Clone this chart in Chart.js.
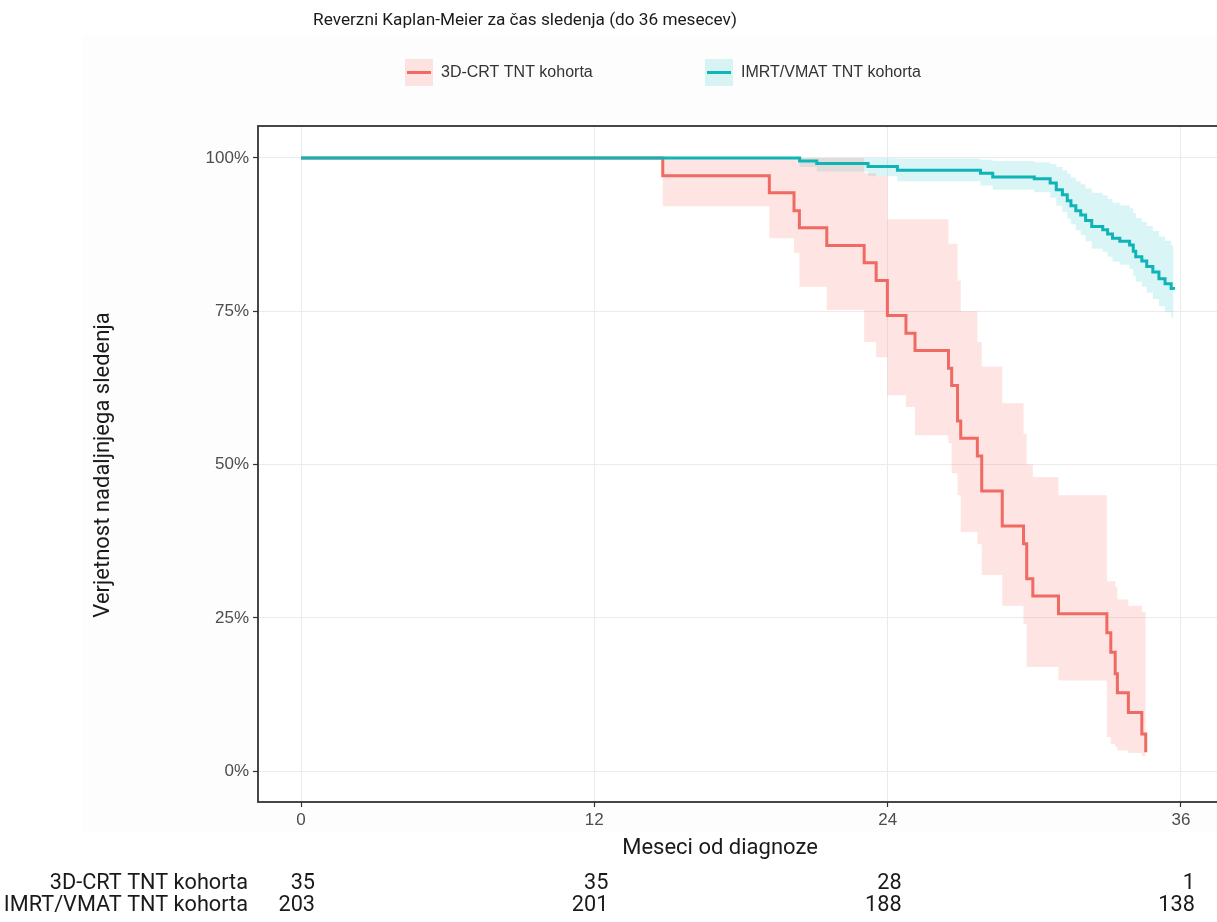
<!DOCTYPE html>
<html>
<head>
<meta charset="utf-8">
<script src="https://cdn.jsdelivr.net/npm/chart.js@4.4.1/dist/chart.umd.min.js"></script>
<style>
  html, body { margin: 0; padding: 0; background: #fff; overflow: hidden; }
  canvas { display: block; }
</style>
</head>
<body>
<canvas id="km" width="1232" height="922"></canvas>
<script>
// Reverse Kaplan-Meier, values
const xTicks = [0, 12, 24, 36];
const yTicks = [0, 0.25, 0.5, 0.75, 1];

const redTimes = [0, 14.8, 19.16, 20.17, 20.39, 21.51, 23.04, 23.53, 23.99, 24.75,
  25.12, 26.49, 26.62, 26.86, 26.99, 27.67, 27.85, 28.69, 29.56, 29.69,
  29.94, 30.99, 32.97, 33.13, 33.31, 33.40, 33.85, 34.40, 34.56];
const redSurv = [1, 0.971, 0.943, 0.914, 0.886, 0.857, 0.829, 0.800, 0.743, 0.714,
  0.686, 0.657, 0.629, 0.571, 0.543, 0.514, 0.457, 0.400, 0.371, 0.314,
  0.286, 0.257, 0.226, 0.194, 0.159, 0.128, 0.096, 0.061, 0.031];
const redLower = [1, 0.921, 0.869, 0.845, 0.79, 0.752, 0.70, 0.675, 0.613, 0.594,
  0.548, 0.535, 0.486, 0.45, 0.39, 0.37, 0.32, 0.27, 0.24, 0.17,
  0.17, 0.148, 0.056, 0.045, 0.04, 0.034, 0.03, 0.025, 0.02];
const redUpper = [1, 1, 1, 1, 1, 1, 0.975, 0.97, 0.90, 0.90,
  0.90, 0.86, 0.86, 0.80, 0.75, 0.70, 0.66, 0.60, 0.55, 0.50,
  0.48, 0.45, 0.31, 0.31, 0.30, 0.28, 0.27, 0.26, 0.25];

const cyanTimes = [0, 20.4, 21.1, 23.2, 24.4, 27.8, 28.3, 30.0, 30.65, 30.9,
  31.15, 31.35, 31.5, 31.7, 31.9, 32.1, 32.35, 32.8, 33.0, 33.2,
  33.5, 33.9, 34.05, 34.15, 34.4, 34.6, 34.85, 35.1, 35.35, 35.6, 35.7];
const cyanSurv = [1, 0.995, 0.991, 0.986, 0.980, 0.975, 0.969, 0.966, 0.959, 0.948,
  0.940, 0.930, 0.922, 0.914, 0.907, 0.898, 0.888, 0.883, 0.876, 0.869,
  0.864, 0.858, 0.848, 0.839, 0.832, 0.823, 0.814, 0.803, 0.795, 0.787, 0.785];
const cyanLower = [1, 0.985, 0.978, 0.970, 0.962, 0.955, 0.948, 0.944, 0.935, 0.922,
  0.912, 0.901, 0.892, 0.882, 0.874, 0.864, 0.852, 0.847, 0.839, 0.831,
  0.826, 0.819, 0.808, 0.798, 0.790, 0.780, 0.770, 0.758, 0.749, 0.740, 0.733];
const cyanUpper = [1, 1, 1, 1, 0.999, 0.997, 0.995, 0.993, 0.990, 0.985,
  0.980, 0.974, 0.968, 0.962, 0.957, 0.950, 0.943, 0.939, 0.933, 0.927,
  0.923, 0.918, 0.910, 0.902, 0.896, 0.889, 0.881, 0.872, 0.865, 0.857, 0.850];

const groupNames = ['3D-CRT TNT kohorta', 'IMRT/VMAT TNT kohorta'];
const riskTimes = [0, 12, 24, 36];
const riskRed = [35, 35, 28, 1];
const riskCyan = [203, 201, 188, 138];

const RED = '#EF6A62';
const CYAN = '#0FB4B8';
const RED_BAND = 'rgba(248, 118, 109, 0.2)';
const CYAN_BAND = 'rgba(0, 191, 196, 0.15)';

function pts(times, vals) {
  return times.map((t, i) => ({ x: t, y: vals[i] }));
}

function band(times, vals, color, fill) {
  return {
    data: pts(times, vals),
    stepped: true,
    borderWidth: 0,
    pointRadius: 0,
    backgroundColor: color,
    fill: fill
  };
}

function curve(times, vals, color) {
  return {
    data: pts(times, vals),
    stepped: true,
    borderColor: color,
    borderWidth: 3,
    pointRadius: 0,
    fill: false
  };
}

const tickFont = { family: '"Liberation Sans", Arial, sans-serif', size: 17 };

// background, panel frame, titles, legend and the risk table
const decor = {
  id: 'decor',
  beforeDraw(chart) {
    const { ctx, chartArea: a } = chart;
    ctx.save();
    ctx.fillStyle = '#ffffff';
    ctx.fillRect(0, 0, chart.width, chart.height);
    ctx.fillStyle = '#fdfdfd';
    ctx.fillRect(83, 35, chart.width - 83, 797);
    ctx.fillStyle = '#ffffff';
    ctx.fillRect(a.left, a.top, a.right - a.left, a.bottom - a.top);
    ctx.restore();
  },
  afterDraw(chart) {
    const { ctx, chartArea: a } = chart;
    const xs = chart.scales.x;
    ctx.save();

    ctx.strokeStyle = '#333333';
    ctx.lineWidth = 1.8;
    ctx.strokeRect(a.left, a.top, a.right - a.left, a.bottom - a.top);

    ctx.fillStyle = '#1a1a1a';
    ctx.textBaseline = 'middle';
    ctx.textAlign = 'center';
    ctx.font = '17.2px Roboto';
    ctx.fillText('Reverzni Kaplan-Meier za čas sledenja (do 36 mesecev)', 525, 21);

    // legend
    const keys = [
      { x: 405, color: RED, fill: RED_BAND, text: groupNames[0] },
      { x: 705, color: CYAN, fill: CYAN_BAND, text: groupNames[1] }
    ];
    keys.forEach(k => {
      ctx.fillStyle = k.fill;
      ctx.fillRect(k.x, 59, 28, 27);
      ctx.strokeStyle = k.color;
      ctx.lineWidth = 3;
      ctx.beginPath();
      ctx.moveTo(k.x + 2, 72.5);
      ctx.lineTo(k.x + 26, 72.5);
      ctx.stroke();
      ctx.fillStyle = '#333333';
      ctx.textAlign = 'left';
      ctx.font = '16px "Liberation Sans", Arial, sans-serif';
      ctx.fillText(k.text, k.x + 36, 72.5);
    });

    // axis titles
    ctx.fillStyle = '#1a1a1a';
    ctx.font = '22px Roboto';
    ctx.textAlign = 'center';
    ctx.fillText('Meseci od diagnoze', 720, 848);
    ctx.save();
    ctx.translate(103, 465);
    ctx.rotate(-Math.PI / 2);
    ctx.fillText('Verjetnost nadaljnjega sledenja', 0, 0);
    ctx.restore();

    // numbers at risk
    ctx.font = '21.7px Roboto';
    const rows = [{ y: 884, vals: riskRed }, { y: 906, vals: riskCyan }];
    rows.forEach((r, i) => {
      ctx.textAlign = 'right';
      ctx.fillText(groupNames[i], 248, r.y);
      r.vals.forEach((v, j) => {
        ctx.fillText(String(v), xs.getPixelForValue(riskTimes[j]) + 14, r.y);
      });
    });

    ctx.restore();
  }
};

const ctx = document.getElementById('km').getContext('2d');
new Chart(ctx, {
  type: 'line',
  data: {
    // Chart.js paints dataset 0 last, so the curves come first
    datasets: [
      curve(cyanTimes, cyanSurv, CYAN),
      curve(redTimes, redSurv, RED),
      band(redTimes, redUpper, RED_BAND, '+1'),
      band(redTimes, redLower, RED_BAND, false),
      band(cyanTimes, cyanUpper, CYAN_BAND, '+1'),
      band(cyanTimes, cyanLower, CYAN_BAND, false)
    ]
  },
  options: {
    responsive: false,
    animation: false,
    devicePixelRatio: 1,
    layout: { padding: { top: 126, right: 10, bottom: 90, left: 0 } },
    plugins: {
      legend: { display: false },
      tooltip: { enabled: false }
    },
    scales: {
      x: {
        type: 'linear',
        min: -1.76,
        max: 37.68,
        afterFit: s => { s.height = 30; },
        afterBuildTicks: s => { s.ticks = xTicks.map(v => ({ value: v })); },
        ticks: {
          font: tickFont,
          color: '#4d4d4d',
          padding: 3,
          autoSkip: false,
          maxRotation: 0,
          callback: v => String(v)
        },
        grid: { color: '#ebebeb', lineWidth: 1, tickColor: '#333333', tickLength: 5, tickWidth: 1.2 },
        border: { display: false }
      },
      y: {
        min: -0.05,
        max: 1.052,
        afterFit: s => { s.width = 258; },
        afterBuildTicks: s => { s.ticks = yTicks.map(v => ({ value: v })); },
        ticks: {
          font: tickFont,
          color: '#4d4d4d',
          padding: 4,
          callback: v => Math.round(v * 100) + '%'
        },
        grid: { color: '#ebebeb', lineWidth: 1, tickColor: '#333333', tickLength: 5, tickWidth: 1.2 },
        border: { display: false }
      }
    }
  },
  plugins: [decor]
});
</script>
</body>
</html>
